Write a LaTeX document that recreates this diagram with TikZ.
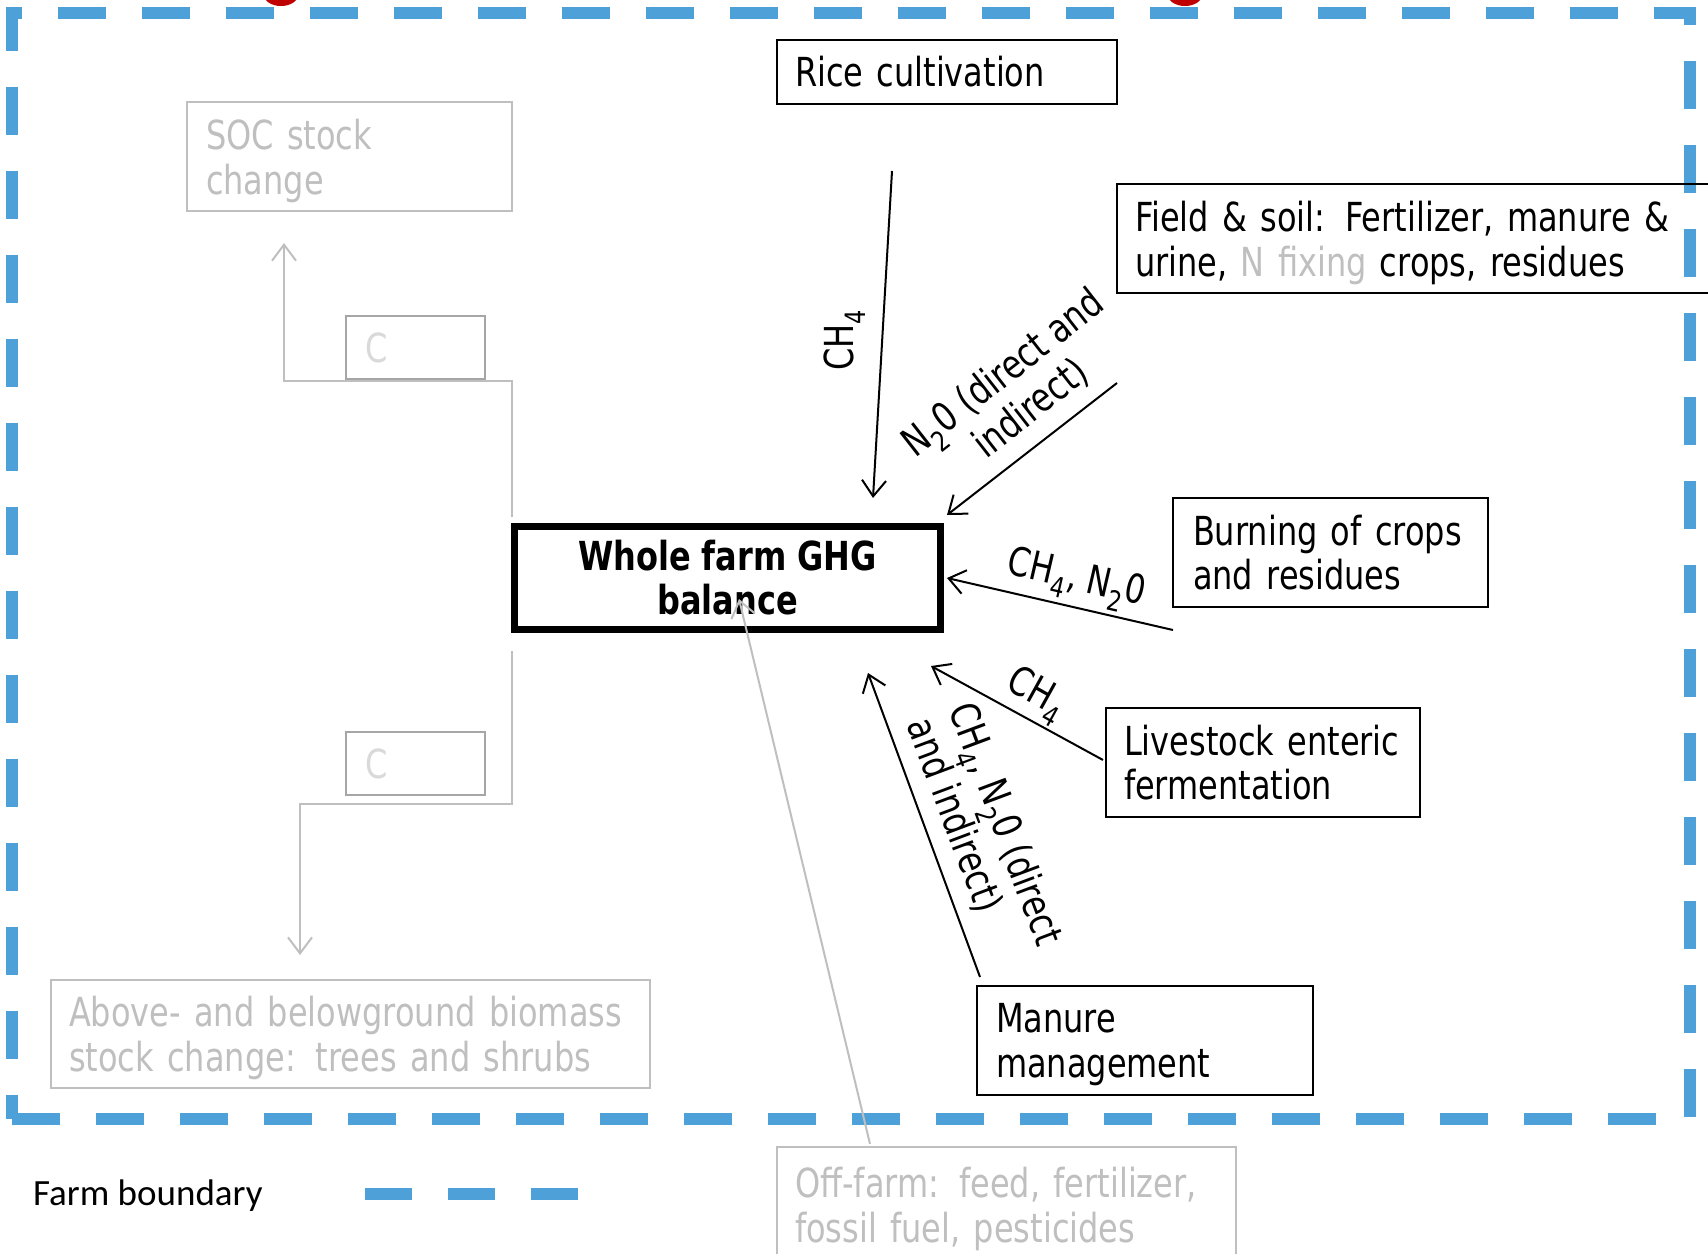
\documentclass[tikz,border=0pt]{standalone}
\usepackage{fontspec}
\setmainfont{DejaVu Sans}[FakeStretch=0.8]
\newfontfamily\legendfont{Carlito}
\usetikzlibrary{arrows.meta}
\definecolor{bnd}{HTML}{4EA0D8}
\definecolor{lgray}{HTML}{BFBFBF}
\definecolor{cgray}{HTML}{D9D9D9}
\definecolor{cbox}{HTML}{A6A6A6}
\definecolor{redmark}{HTML}{C00000}
\newcommand{\nodep}[1]{\raisebox{0pt}[\height][0pt]{#1}}
\tikzset{
  txt/.style={font=\fontsize{40}{44.7}\selectfont},
  box/.style={draw, line width=2pt, anchor=north west, align=left, inner xsep=18pt, inner ysep=0pt, outer sep=0pt, txt},
  graybox/.style={box, draw=lgray, text=lgray},
  cbx/.style={box, draw=cbox, text=cgray, line width=2pt},
  lbl/.style={txt, inner sep=0pt},
  arr/.style={line width=2pt, -{Straight Barb[length=16pt,width=24pt,line width=2pt]}},
  garr/.style={arr, draw=lgray},
  boundary/.style={draw=bnd, line width=12pt, dash pattern=on 48pt off 36pt},
}
\begin{document}
\begin{tikzpicture}[x=1pt,y=-1pt]
\useasboundingbox (0,0) rectangle (1708,1253);
\clip (0,0) rectangle (1708,1253);
\fill[white] (0,0) rectangle (1708,1253);
% red marks cut off at top
\fill[redmark] (281,-5) ellipse [x radius=17, y radius=11];
\fill[redmark] (1185,-5) ellipse [x radius=17, y radius=11];
% farm boundary
\draw[boundary, dash phase=24pt] (12,1119) -- (12,13) -- (1690,13) -- (1690,1119) -- cycle;
% boxes
\node[box, text width=304pt, minimum height=64pt] (rice) at (777,40) {\mbox{Rice cultivation}};
\node[box, text width=574pt, minimum height=109pt] (field) at (1117,184) {\mbox{Field \& soil: Fertilizer, manure \&}\\\nodep{urine, {\color{lgray}N fixing} crops, residues}};
\node[draw, line width=7pt, minimum width=426pt, minimum height=103pt, align=center, inner sep=0pt, font=\fontsize{40}{44}\selectfont\bfseries] (ghg) at (727.5,578) {Whole farm GHG\\balance};
\node[box, inner xsep=20pt, text width=275pt, minimum height=109pt] (burn) at (1173,498) {\mbox{Burning of crops}\\\mbox{and residues}};
\node[box, text width=278pt, minimum height=109pt] (live) at (1106,708) {\mbox{Livestock enteric}\\\mbox{fermentation}};
\node[box, inner xsep=19pt, text width=298pt, minimum height=109pt] (manure) at (977,986) {Manure\\\nodep{management}};
\node[graybox, inner xsep=19pt, text width=287pt, minimum height=109pt] (soc) at (187,102) {\mbox{SOC stock}\\\nodep{change}};
\node[cbx, inner xsep=19pt, text width=101pt, minimum height=63pt] (c1) at (346,316) {C};
\node[cbx, inner xsep=19pt, text width=101pt, minimum height=63pt] (c2) at (346,732) {C};
\node[graybox, text width=563pt, minimum height=108pt] (bio) at (51,980) {\mbox{Above- and belowground biomass}\\\nodep{stock change: trees and shrubs}};
\node[graybox, text width=423pt, minimum height=115pt] (off) at (777,1147) {\mbox{Off-farm: feed, fertilizer,}\\\nodep{fossil fuel, pesticides}};
% connector coordinates
\coordinate (riceOut) at (892,171);
\coordinate (ghgTop) at (873,498);
\coordinate (fieldOut) at (1117,383);
\coordinate (ghgNE) at (947,515);
\coordinate (burnOut) at (1173,630);
\coordinate (ghgE) at (947,578);
\coordinate (liveOut) at (1103,760);
\coordinate (ghgSE) at (931,666);
\coordinate (manOut) at (980,977);
\coordinate (ghgS) at (868,673);
\coordinate (offOut) at (870,1144);
\coordinate (ghgIn) at (739,599);
\coordinate (g1a) at (512,517);
\coordinate (g1b) at (284,381);
\coordinate (g1c) at (284,243);
\coordinate (g2a) at (512,651);
\coordinate (g2b) at (300,804);
\coordinate (g2c) at (300,955);
% connectors
\draw[arr] (riceOut) -- (ghgTop);
\draw[arr] (fieldOut) -- (ghgNE);
\draw[arr] (burnOut) -- (ghgE);
\draw[arr] (liveOut) -- (ghgSE);
\draw[arr] (manOut) -- (ghgS);
\draw[garr] (offOut) -- (ghgIn);
\draw[garr] (g1a) |- (g1b) -- (g1c);
\draw[garr] (g2a) |- (g2b) -- (g2c);
% labels
\node[lbl, rotate=90] (lrice) at (845,340) {CH\textsubscript{4}};
\node[lbl, rotate=38, align=center] (lfield) at (1017,391) {N\textsubscript{2}0 (direct and\\indirect)};
\node[lbl, rotate=-13] (lburn) at (1076,581) {CH\textsubscript{4}, N\textsubscript{2}0};
\node[lbl, rotate=-29] (llive) at (1036,696) {CH\textsubscript{4}};
\node[lbl, rotate=-69.5, align=left] (lman) at (984,832) {CH\textsubscript{4}, N\textsubscript{2}0 (direct\\and indirect)};
% legend
\node[anchor=west, inner sep=0pt, font=\legendfont\fontsize{37}{40}\selectfont] (leg) at (33,1196) {Farm boundary};
\coordinate (legA) at (365,1194);
\coordinate (legB) at (580,1194);
\draw[boundary, dash pattern=on 47pt off 36pt] (legA) -- (legB);
\end{tikzpicture}
\end{document}
